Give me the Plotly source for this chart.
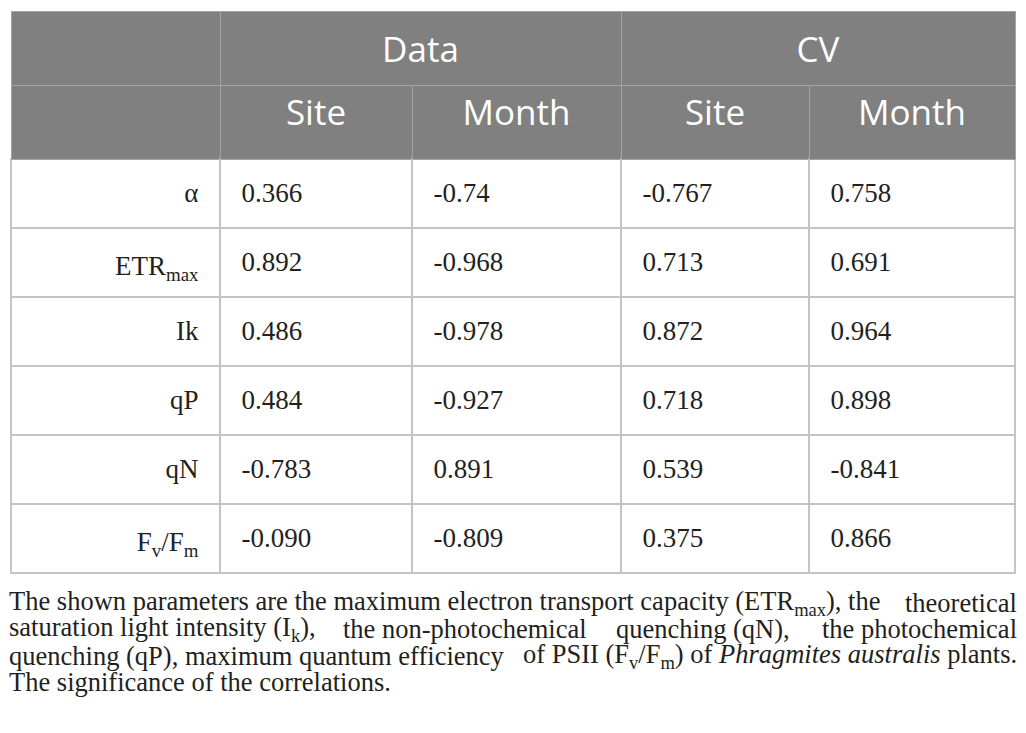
import plotly.graph_objects as go

# table content
row_labels = ["α", "ETR<sub>max</sub>", "Ik", "qP", "qN", "F<sub>v</sub>/F<sub>m</sub>"]
groups = ["", "Data", "CV"]
sub_headers = ["", "Site", "Month", "Site", "Month"]
data_site = ["0.366", "0.892", "0.486", "0.484", "-0.783", "-0.090"]
data_month = ["-0.74", "-0.968", "-0.978", "-0.927", "0.891", "-0.809"]
cv_site = ["-0.767", "0.713", "0.872", "0.718", "0.539", "0.375"]
cv_month = ["0.758", "0.691", "0.964", "0.898", "-0.841", "0.866"]

# footnote, one list of pieces per line (text, screen x, anchor) to mimic the justified block
footnote = [
    [("The shown parameters are the maximum electron transport capacity (ETR<sub>max</sub>), the", 11, "left"),
     ("theoretical", 1015, "right")],
    [("saturation light intensity (I<sub>k</sub>),", 11, "left"),
     ("the non-photochemical", 345, "left"),
     ("quenching (qN),", 618, "left"),
     ("the photochemical", 1015, "right")],
    [("quenching (qP), maximum quantum efficiency", 11, "left"),
     ("of PSII (F<sub>v</sub>/F<sub>m</sub>) of <i>Phragmites australis</i> plants.", 1015, "right")],
    [("The significance of the correlations.", 11, "left")],
]

W, H = 1026, 733
OFF = 8  # page body margin of the html page


def px(x):
    return (x - OFF) / W


def py(y):
    return 1 - (y - OFF) / H


GRAY = "#808080"
CLEAR = "rgba(0,0,0,0)"
head_font = dict(family="Open Sans", size=35, color="white")
body_font = dict(family="Liberation Serif", size=[27, 27, 27, 27, 27], color="#231f20")
pad = "\u00a0\u00a0"
xdom = [px(11), px(1015)]
w_top = [209, 401, 394]
w_sub = [209, 192, 209, 188, 206]

fig = go.Figure()

# grid: group header row
fig.add_trace(go.Table(
    domain=dict(x=xdom, y=[0, py(11)]),
    columnwidth=w_top,
    header=dict(values=["", "", ""], height=74, fill_color=GRAY,
                line=dict(color="#a3a3a3", width=1)),
    cells=dict(values=[[], [], []]),
))

# grid: sub header + body
fig.add_trace(go.Table(
    domain=dict(x=xdom, y=[0, py(85)]),
    columnwidth=w_sub,
    header=dict(values=[""] * 5, height=74, fill_color=GRAY,
                line=dict(color="#a3a3a3", width=1)),
    cells=dict(values=[[""] * len(row_labels)] * 5, height=69, fill_color="white",
               line=dict(color="#c4c4c4", width=1.5)),
))

# text layers (offset down so the text sits in the middle of each cell)
fig.add_trace(go.Table(
    domain=dict(x=xdom, y=[0, py(28)]),
    columnwidth=w_top,
    header=dict(values=groups, height=74, fill_color=CLEAR,
                line=dict(color=CLEAR, width=0), align="center", font=head_font),
    cells=dict(values=[[], [], []]),
))

fig.add_trace(go.Table(
    domain=dict(x=xdom, y=[0, py(91)]),
    columnwidth=w_sub,
    header=dict(values=sub_headers, height=83, fill_color=CLEAR,
                line=dict(color=CLEAR, width=0), align="center", font=head_font),
    cells=dict(
        values=[[l + pad for l in row_labels],
                [pad + v for v in data_site],
                [pad + v for v in data_month],
                [pad + v for v in cv_site],
                [pad + v for v in cv_month]],
        height=69, fill_color=CLEAR, line=dict(color=CLEAR, width=0),
        align=["right", "left", "left", "left", "left"],
        font=body_font,
    ),
))

note_font = dict(family="Liberation Serif", size=26.5, color="#231f20")
for i, pieces in enumerate(footnote):
    yc = py(602.5 + 26.5 * i)
    for text, xs, anchor in pieces:
        # annotation boxes add ~3px around the text
        xa = xs - 3 if anchor == "left" else xs + 3
        fig.add_annotation(text=text, xref="paper", yref="paper", x=px(xa), y=yc,
                           xanchor=anchor, yanchor="middle", showarrow=False,
                           font=note_font, borderpad=0)

fig.update_layout(
    width=W, height=H, margin=dict(l=0, r=0, t=0, b=0),
    paper_bgcolor="white", plot_bgcolor="white",
)

fig.write_html("out.html")
